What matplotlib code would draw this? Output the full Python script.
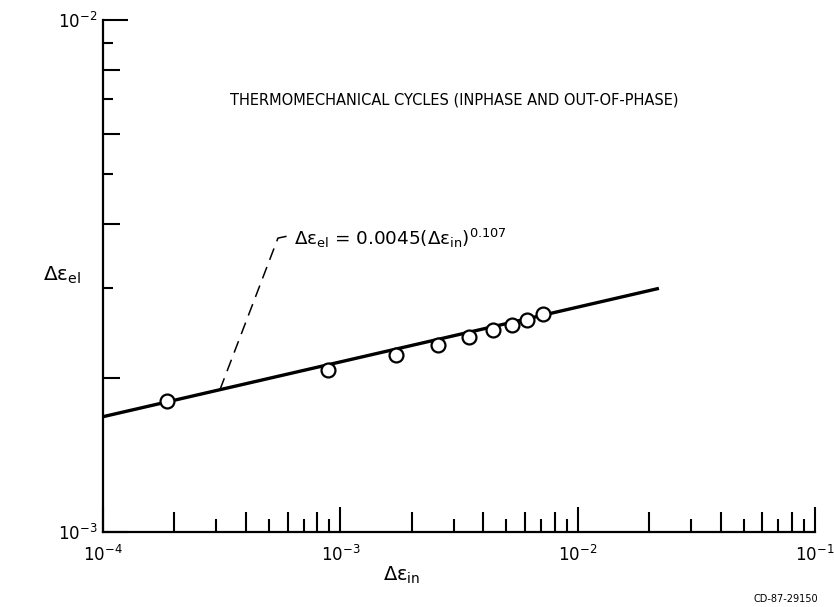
import numpy as np
import matplotlib
matplotlib.use("Agg")
import matplotlib.pyplot as plt

# ---- data ----
x_in = [1.86e-4, 8.87e-4, 1.71e-3, 2.59e-3, 3.50e-3, 4.39e-3, 5.28e-3, 6.14e-3, 7.17e-3]
y_el = [1.80e-3, 2.07e-3, 2.22e-3, 2.32e-3, 2.40e-3, 2.48e-3, 2.54e-3, 2.60e-3, 2.66e-3]
fit_coef = 0.0045
fit_exp = 0.107
fit_range = [1e-4, 2.2e-2]
title = "THERMOMECHANICAL CYCLES (INPHASE AND OUT-OF-PHASE)"
eq_label = r"$\Delta\varepsilon_{el}$ = 0.0045($\Delta\varepsilon_{in}$)$^{0.107}$"
xlabel = r"$\Delta\varepsilon_{in}$"
ylabel = r"$\Delta\varepsilon_{el}$"
figure_id = "CD-87-29150"
xlim = [1e-4, 1e-1]
ylim = [1e-3, 1e-2]
xtick_vals = [1e-4, 1e-3, 1e-2, 1e-1]
xtick_labels = [r"$10^{-4}$", r"$10^{-3}$", r"$10^{-2}$", r"$10^{-1}$"]
ytick_vals = [1e-3, 1e-2]
ytick_labels = [r"$10^{-3}$", r"$10^{-2}$"]

plt.rcParams['font.family'] = ['DejaVu Sans']
plt.rcParams['mathtext.fontset'] = 'custom'
plt.rcParams['mathtext.rm'] = 'DejaVu Sans'
plt.rcParams['mathtext.it'] = 'DejaVu Sans'
plt.rcParams['mathtext.bf'] = 'DejaVu Sans:bold'
plt.rcParams['mathtext.sf'] = 'DejaVu Sans'

W, H, DPI = 834, 607, 100
fig = plt.figure(figsize=(W / DPI, H / DPI), dpi=DPI)
pos = [103 / W, 1 - 532 / H, (815 - 103) / W, (532 - 20) / H]
ax = fig.add_axes(pos)
ax.set_xscale('log')
ax.set_yscale('log')
ax.set_xlim(xlim)
ax.set_ylim(ylim)

for s in ['top', 'right']:
    ax.spines[s].set_visible(False)
for s in ['left', 'bottom']:
    ax.spines[s].set_linewidth(1.6)

px = 72 / DPI  # points per pixel
# major ticks (decades)
ax.set_xticks(xtick_vals)
ax.set_yticks(ytick_vals)
ax.set_xticklabels(xtick_labels)
ax.set_yticklabels(ytick_labels)
ax.tick_params(axis='x', which='major', direction='in', length=25 * px, width=1.5,
               labelsize=12, pad=9)
ax.tick_params(axis='y', which='major', direction='in', length=25 * px, width=1.5,
               labelsize=12, pad=4)

decades_x = [1e-4, 1e-3, 1e-2]
decades_y = [1e-3]
even = [2, 4, 6, 8]
odd = [3, 5, 7, 9]
ax.set_xticks([d * m for d in decades_x for m in even], minor=True)
ax.set_yticks([d * m for d in decades_y for m in even], minor=True)
ax.tick_params(axis='x', which='minor', direction='in', length=20 * px, width=1.5, labelbottom=False)
ax.tick_params(axis='y', which='minor', direction='in', length=17 * px, width=1.5, labelleft=False)

# overlay axes (independent, same limits) for short odd minor ticks
ax2 = fig.add_axes(pos)
ax2.set_xscale('log')
ax2.set_yscale('log')
ax2.set_xlim(xlim)
ax2.set_ylim(ylim)
ax2.patch.set_visible(False)
for s in ax2.spines.values():
    s.set_visible(False)
ax2.set_xticks([d * m for d in decades_x for m in odd])
ax2.set_yticks([d * m for d in decades_y for m in odd])
ax2.set_xticks([], minor=True)
ax2.set_yticks([], minor=True)
ax2.tick_params(axis='x', which='major', direction='in', length=13 * px, width=1.5, labelbottom=False)
ax2.tick_params(axis='y', which='major', direction='in', length=10 * px, width=1.5, labelleft=False)

# fit line
fx = np.logspace(np.log10(fit_range[0]), np.log10(fit_range[1]), 50)
fy = fit_coef * fx ** fit_exp
ax.plot(fx, fy, color='black', lw=2.4, zorder=3, solid_capstyle='butt')

# data points
ax.plot(x_in, y_el, 'o', ms=10, mfc='white', mec='black', mew=1.6, zorder=4, clip_on=False)

# leader line and equation
x_base = 3.11e-4
y_base = fit_coef * x_base ** fit_exp
x_top, y_top = 5.46e-4, 3.75e-3
x_hook = 6.05e-4
ax.plot([x_base, x_top, x_hook], [y_base, y_top, y_top * 1.01], color='black', lw=1.1,
        dashes=(8, 5), zorder=2)
ax.text(6.4e-4, y_top * 1.0, eq_label, fontsize=13.2, ha='left', va='center')

# title
ax.text(0.493, 0.844, title, transform=ax.transAxes, fontsize=10.5, ha='center', va='center')

# axis labels
fig.text(402 / W, 1 - 575 / H, xlabel, fontsize=14, ha='center', va='center')
fig.text(62 / W, 1 - 275 / H, ylabel, fontsize=14.5, ha='center', va='center')
fig.text(786 / W, 1 - 599 / H, figure_id, fontsize=7, ha='center', va='center')

fig.savefig('out.png', dpi=DPI)
